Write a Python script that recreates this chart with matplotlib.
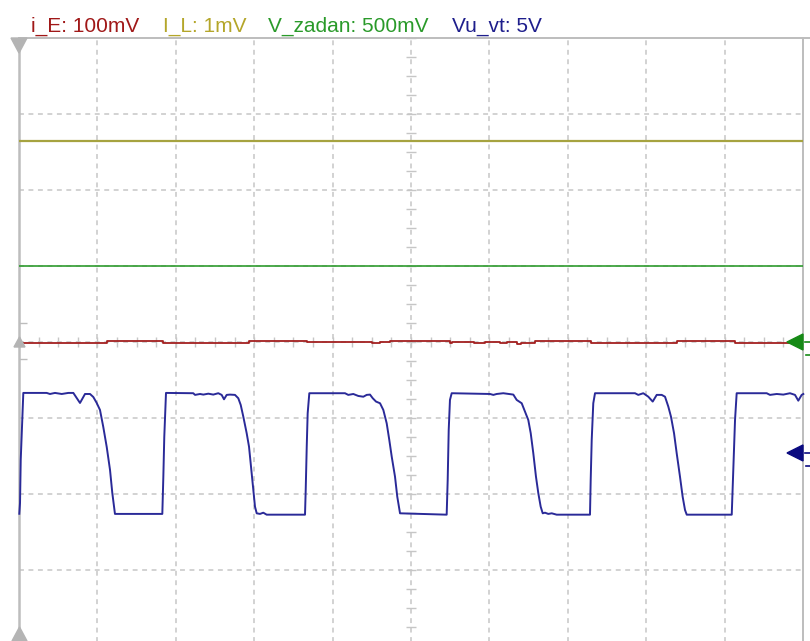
import matplotlib
matplotlib.use("Agg")
import matplotlib.pyplot as plt
from matplotlib.patches import Polygon
from matplotlib.collections import LineCollection
import numpy as np

# ---- channel settings (scale per division, zero-marker position in divisions)
channel_names = ["i_E", "I_L", "V_zadan", "Vu_vt"]
channel_scales = ["100mV", "1mV", "500mV", "5V"]
ie_scale_mv = 100.0
il_scale_mv = 1.0
vz_scale_mv = 500.0
vu_scale_v = 5.0
ie_offset = 0.0
il_offset = 0.0
vz_offset = 0.0
vu_offset = -1.46

# ---- traces (time in divisions)
il_level_mv = 2.64
vz_level_mv = 500.0

ie_t = [0.0, 1.122, 1.837, 2.934, 3.670, 3.71, 3.75, 3.84, 3.97, 4.16, 4.25, 4.35,
        4.50, 4.60, 4.73, 5.497, 5.52, 5.56, 5.61, 5.70, 5.80, 5.95, 6.13, 6.22,
        6.35, 6.40, 6.582, 7.296, 8.393, 9.133, 10.0]
ie_mv = [-1.7, 1.7, -1.7, 1.7, -0.3, 0.4, -0.5, 0.1, -0.5, 0.0, -0.6, -0.1,
         -0.7, 0.1, 1.7, -0.8, 0.2, -0.6, 0.0, -0.5, -0.9, -0.6, -0.9, 0.4,
         -2.4, -0.9, 1.7, -1.7, 1.7, -1.7, -1.7]

vu_t = [0.004, 0.013, 0.022, 0.038, 0.055, 0.353, 0.395, 0.459, 0.545, 0.629, 0.693, 0.778,
        0.842, 0.906, 0.948, 0.991, 1.033, 1.075, 1.119, 1.161, 1.190, 1.224, 1.828, 1.841,
        1.853, 1.875,
        2.223, 2.245, 2.309, 2.351, 2.415, 2.478, 2.542, 2.585, 2.615, 2.649, 2.691, 2.755,
        2.797, 2.828, 2.861, 2.904, 2.934, 2.959, 2.989, 3.010, 3.032, 3.074, 3.116, 3.159,
        3.648, 3.657, 3.670, 3.682, 3.703,
        4.158, 4.200, 4.264, 4.328, 4.392, 4.435, 4.477, 4.512, 4.554, 4.605, 4.647, 4.690,
        4.723, 4.754, 4.796, 4.825, 4.860, 5.455, 5.468, 5.481, 5.497, 5.519,
        6.008, 6.050, 6.093, 6.177, 6.305, 6.348, 6.412, 6.454, 6.496, 6.527, 6.560, 6.594,
        6.624, 6.654, 6.680, 6.709, 6.751, 6.795, 6.858, 7.283, 7.292, 7.305, 7.325, 7.347,
        7.857, 7.899, 7.963, 8.027, 8.083, 8.134, 8.198, 8.240, 8.282, 8.316, 8.355, 8.389,
        8.431, 8.465, 8.495, 8.517, 9.091, 9.103, 9.120, 9.133, 9.154,
        9.537, 9.579, 9.665, 9.749, 9.834, 9.898, 9.940, 9.983, 10.004]
vu_v = [-4.0, -3.29, -0.46, 1.71, 3.95, 3.95, 3.88, 3.95, 3.88, 3.95, 3.95, 3.29,
        3.88, 3.88, 3.68, 3.29, 2.83, 1.71, 0.39, -1.12, -2.63, -4.01, -4.01, -1.58,
        1.05, 3.95,
        3.93, 3.82, 3.88, 3.84, 3.90, 3.84, 3.93, 3.82, 3.53, 3.82, 3.84, 3.82,
        3.60, 3.16, 2.39, 1.30, 0.41, -0.90, -2.43, -3.53, -3.97, -4.01, -3.93, -4.06,
        -4.06, -2.43, 0.41, 2.61, 3.93,
        3.93, 3.82, 3.88, 3.75, 3.70, 3.82, 3.84, 3.60, 3.38, 3.27, 2.83, 1.95,
        0.86, -0.24, -1.56, -2.88, -3.97, -4.06, -1.78, 1.51, 3.49, 3.93,
        3.88, 3.82, 3.88, 3.93, 3.84, 3.49, 3.27, 2.72, 2.17, 1.30, -0.02, -1.56,
        -2.65, -3.53, -3.97, -3.93, -4.01, -3.97, -4.06, -4.06, -1.78, 0.86, 3.27, 3.93,
        3.93, 3.82, 3.93, 3.70, 3.38, 3.82, 3.82, 3.70, 3.05, 2.39, 1.30, -0.02,
        -1.56, -2.88, -3.75, -4.06, -4.06, -2.22, 0.41, 2.17, 3.93,
        3.93, 3.82, 3.88, 3.84, 3.93, 3.82, 3.44, 3.82, 3.88]

# ---- colours
c_ie = "#a32020"
c_il = "#a6a340"
c_vz = "#2f9c2f"
c_vu = "#2a2a98"
text_colors = ["#a01818", "#b4a62a", "#2a9a2a", "#1e1e8c"]
grid_c = "#c6c6c6"
frame_c = "#bdbdbd"

W, H = 810, 641
TOP = 38        # pixel row of screen top
CTR = 342       # pixel row of screen centre
DIV_Y = 76.0    # pixels per vertical division
DIV_X = 78.4    # pixels per horizontal division
LEFT = 19

fig = plt.figure(figsize=(W / 100, H / 100), dpi=100)
fig.patch.set_facecolor("white")
ax = fig.add_axes([LEFT / W, 0, 10 * DIV_X / W, (H - TOP) / H])
ax.set_xlim(0, 10)
ax.set_ylim(-(H - CTR) / DIV_Y, (CTR - TOP) / DIV_Y)
ax.axis("off")
px = 1.0 / DIV_X
py = 1.0 / DIV_Y

# graticule
dash = (0, (3.2, 3.0))
for i in range(1, 10):
    ax.plot([i, i], [-4, 4], color=grid_c, lw=1.1, ls=dash, zorder=1)
for j in range(-3, 4):
    ax.plot([0, 10], [j, j], color=grid_c, lw=1.1, ls=dash, zorder=1)

segs = []
for q in np.arange(-4, 4.01, 0.25):
    segs.append([(5 - 5 * px, q), (5 + 5 * px, q)])
for q in np.arange(0, 10.01, 0.25):
    segs.append([(q, -5 * py), (q, 5 * py)])
ax.add_collection(LineCollection(segs, colors=grid_c, linewidths=1.0, zorder=1))
ax.add_collection(LineCollection([[(0, 0.25), (8 * px, 0.25)], [(0, -0.22), (8 * px, -0.22)]],
                                 colors=frame_c, linewidths=1.0, zorder=1))

# screen frame
ylo, yhi = ax.get_ylim()
ax.plot([0, 0], [ylo, yhi], color=frame_c, lw=1.8, clip_on=False, zorder=2)
ax.plot([10, 10], [ylo, yhi], color=frame_c, lw=1.4, clip_on=False, zorder=2)
ax.plot([0, 10 + 8 * px], [yhi, yhi], color=frame_c, lw=1.4, clip_on=False, zorder=2)

# traces
ax.plot([0, 10], [il_offset + il_level_mv / il_scale_mv] * 2, color=c_il, lw=1.6, zorder=3)
ax.plot([0, 10], [vz_offset + vz_level_mv / vz_scale_mv] * 2, color=c_vz, lw=1.2, zorder=3)
ax.plot(ie_t, ie_offset + np.array(ie_mv) / ie_scale_mv, color=c_ie, lw=1.3,
        drawstyle="steps-post", zorder=4)
ax.plot(vu_t, vu_offset + np.array(vu_v) / vu_scale_v, color=c_vu, lw=1.4, zorder=4,
        clip_on=False)

# trigger markers on the left edge
tri_gray = "#b4b4b4"
ax.add_patch(Polygon([(-8 * px, yhi), (8 * px, yhi), (0, yhi - 15 * py)], closed=True,
                     color=tri_gray, clip_on=False, zorder=5))
ax.add_patch(Polygon([(-5 * px, -5 * py), (6 * px, -5 * py), (0.5 * px, 5 * py)], closed=True,
                     color=tri_gray, clip_on=False, zorder=5))
ax.add_patch(Polygon([(-7 * px, ylo), (8 * px, ylo), (0.5 * px, ylo + 14 * py)], closed=True,
                     color=tri_gray, clip_on=False, zorder=5))

# channel zero markers on the right edge
for off, col in [(vz_offset, "#168a16"), (vu_offset, "#0a0a80")]:
    ax.add_patch(Polygon([(10, off + 8 * py), (10, off - 8 * py), (10 - 16 * px, off)],
                         closed=True, color=col, clip_on=False, zorder=6))
    ax.plot([10 + 2 * px, 10 + 8 * px], [off, off], color=col, lw=1.2, clip_on=False, zorder=6)
    ax.plot([10 + 3 * px, 10 + 8 * px], [off - 13 * py, off - 13 * py], color=col, lw=1.2,
            clip_on=False, zorder=6)

# channel header
label_x = [31, 163, 268, 452]
for name, sc, xx, col in zip(channel_names, channel_scales, label_x, text_colors):
    fig.text(xx / W, 1 - 32 / H, f"{name}: {sc}", color=col, fontsize=15,
             family="Liberation Sans", ha="left", va="baseline")

fig.savefig("out.png", dpi=100, facecolor="white")
